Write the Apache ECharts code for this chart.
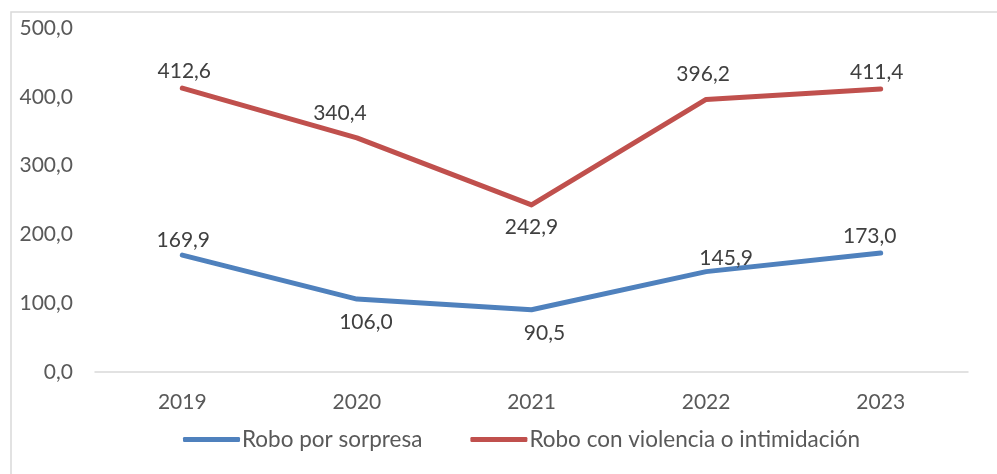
<!DOCTYPE html>
<html>
<head>
<meta charset="utf-8">
<script src="https://cdn.jsdelivr.net/npm/echarts@6/dist/echarts.min.js"></script>
<style>
  html, body { margin: 0; padding: 0; background: #fff; }
  #chart { width: 997px; height: 474px; }
</style>
</head>
<body>
<div id="chart"></div>
<script>
// datos del gráfico
var years = ["2019", "2020", "2021", "2022", "2023"];
var sorpresa = [169.9, 106.0, 90.5, 145.9, 173.0];
var violencia = [412.6, 340.4, 242.9, 396.2, 411.4];
var yTicks = [0, 100, 200, 300, 400, 500];

// posición de las etiquetas (arriba/abajo) y desplazamiento
var sorpresaLabelPos = [["top", 1, 2], ["bottom", 9, 7], ["bottom", 13, 7], ["top", 20, 3], ["top", -11, 0]];
var violenciaLabelPos = [["top", 2, 0], ["top", -17, -8], ["bottom", 0, 6], ["top", -3, -9], ["top", -4, 0]];

function fmt(v) {
  return v.toFixed(1).replace(".", ",");
}

var font = "Lato, 'Noto Sans', sans-serif";
var textColor = "#404040";

function buildData(values, pos) {
  var out = [];
  for (let i = 0; i < values.length; i++) {
    out.push({
      value: values[i],
      label: {
        position: pos[i][0],
        offset: [pos[i][1], pos[i][2]]
      }
    });
  }
  return out;
}

var myChart = echarts.init(document.getElementById("chart"));

var option = {
  animation: false,
  backgroundColor: "#fff",
  textStyle: { fontFamily: font },
  graphic: [{
    type: "rect",
    shape: { x: 11, y: 12, width: 1000, height: 480 },
    style: { fill: "none", stroke: "#d9d9d9", lineWidth: 1.5 },
    silent: true
  }],
  grid: { left: 95, right: 29, top: 28, bottom: 102 },
  legend: {
    bottom: 18,
    left: 178,
    itemWidth: 57,
    itemHeight: 5,
    itemGap: 48,
    icon: "roundRect",
    textStyle: { fontFamily: font, fontSize: 22.5, color: "#595959", padding: [0, 0, 0, -3] },
    data: ["Robo por sorpresa", "Robo con violencia o intimidación"]
  },
  xAxis: {
    type: "category",
    data: years,
    boundaryGap: true,
    axisLine: { lineStyle: { color: "#d9d9d9", width: 1.5 } },
    axisTick: { show: false },
    axisLabel: { color: "#595959", fontSize: 21, margin: 20, fontFamily: font }
  },
  yAxis: {
    type: "value",
    min: yTicks[0],
    max: yTicks[yTicks.length - 1],
    interval: 100,
    splitLine: { show: false },
    axisLine: { show: false },
    axisTick: { show: false },
    axisLabel: {
      color: "#595959", fontSize: 21, margin: 22, fontFamily: font,
      formatter: function (v) { return fmt(v); }
    }
  },
  series: [
    {
      name: "Robo por sorpresa",
      type: "line",
      data: buildData(sorpresa, sorpresaLabelPos),
      symbol: "circle",
      symbolSize: 0,
      showSymbol: true,
      color: "#4f81bd",
      lineStyle: { width: 5, cap: "round", join: "round" },
      label: {
        show: true, fontSize: 21, color: textColor, fontFamily: font, distance: 6,
        formatter: function (p) { return fmt(p.value); }
      }
    },
    {
      name: "Robo con violencia o intimidación",
      type: "line",
      data: buildData(violencia, violenciaLabelPos),
      symbol: "circle",
      symbolSize: 0,
      showSymbol: true,
      color: "#c0504d",
      lineStyle: { width: 5, cap: "round", join: "round" },
      label: {
        show: true, fontSize: 21, color: textColor, fontFamily: font, distance: 6,
        formatter: function (p) { return fmt(p.value); }
      }
    }
  ]
};

myChart.setOption(option);
</script>
</body>
</html>
